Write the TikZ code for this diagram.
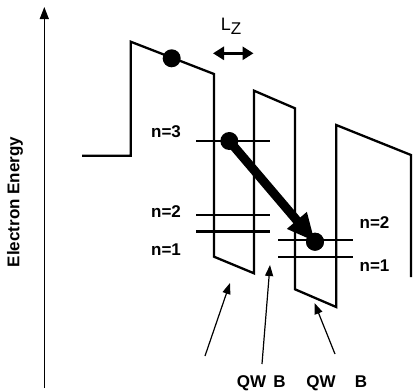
\documentclass[tikz,border=0pt]{standalone}
\usepackage{fontspec}
\setmainfont{Liberation Sans}
\usetikzlibrary{arrows.meta}
\begin{document}
\begin{tikzpicture}[x=1bp,y=-1bp,
  band/.style={line width=2.3bp, line join=miter},
  level/.style={line width=2.2bp},
  electron/.style={circle, fill=black, inner sep=0pt, minimum size=18bp},
  lbl/.style={font=\fontsize{17bp}{19bp}\selectfont\bfseries, inner sep=0pt},
  pointer/.style={line width=1.2bp, -{Triangle[length=11bp,width=8bp]}},
  hop/.style={line width=9bp, -{Triangle[length=28bp,width=24bp]}}
]
\useasboundingbox (0,0) rectangle (414,392);
% energy axis
\coordinate (axb) at (44.3,388);
\coordinate (axt) at (44.3,7);
\draw[line width=1.2bp, -{Triangle[length=12bp,width=9bp]}] (axb) -- (axt);
\node[lbl, rotate=90] (axlbl) at (15,202) {Electron Energy};
% band profile
\draw[band] (82,155.7) -- (130.7,155.7) -- (130.7,41.7) -- (214,74) -- (214,256.7)
  -- (254,273.3) -- (254,90.7) -- (295,108.3) -- (295,289.3) -- (336.2,307) -- (336.2,125)
  -- (411,155) -- (411,277);
% levels, left well
\draw[level] (196,141) -- (270,141);
\draw[level] (196,215) -- (270,215);
\draw[level] (196,231.5) -- (270,231.5);
% levels, right well
\draw[level] (278,240) -- (353,240);
\draw[level] (278,256.7) -- (353,256.7);
% level labels
\node[lbl] (n3l) at (166,131.7) {n=3};
\node[lbl] (n2l) at (166,211.7) {n=2};
\node[lbl] (n1l) at (166,249.5) {n=1};
\node[lbl] (n2r) at (374.5,222.7) {n=2};
\node[lbl] (n1r) at (374.5,265.5) {n=1};
% electrons
\node[electron] (e0) at (171.7,58.3) {};
\node[electron] (e1) at (229.3,141) {};
\node[electron] (e2) at (315,241.7) {};
\draw[hop] (e1.center) -- (e2.center);
\node[electron] at (e2) {};
% Lz
\coordinate (lza) at (213,53.3);
\coordinate (lzb) at (253.5,53.3);
\draw[line width=3bp, {Triangle[length=11bp,width=13bp]}-{Triangle[length=11bp,width=13bp]}] (lza) -- (lzb);
\node[inner sep=0pt, font=\fontsize{18bp}{20bp}\selectfont] (lz) at (231,26) {L\raisebox{-4bp}{\fontsize{17bp}{19bp}\selectfont Z}};
% bottom labels
\node[lbl, anchor=base] (qw1) at (251.5,387) {QW};
\node[lbl, anchor=base] (b1) at (279.5,387) {B};
\node[lbl, anchor=base] (qw2) at (321,387) {QW};
\node[lbl, anchor=base] (b2) at (361,387) {B};
% pointers
\coordinate (p1s) at (205,356);  \coordinate (p1e) at (230,283);
\coordinate (p2s) at (262,364);  \coordinate (p2e) at (270,265);
\coordinate (p3s) at (335,354);  \coordinate (p3e) at (314.5,303);
\draw[pointer] (p1s) -- (p1e);
\draw[pointer] (p2s) -- (p2e);
\draw[pointer] (p3s) -- (p3e);
\end{tikzpicture}
\end{document}
